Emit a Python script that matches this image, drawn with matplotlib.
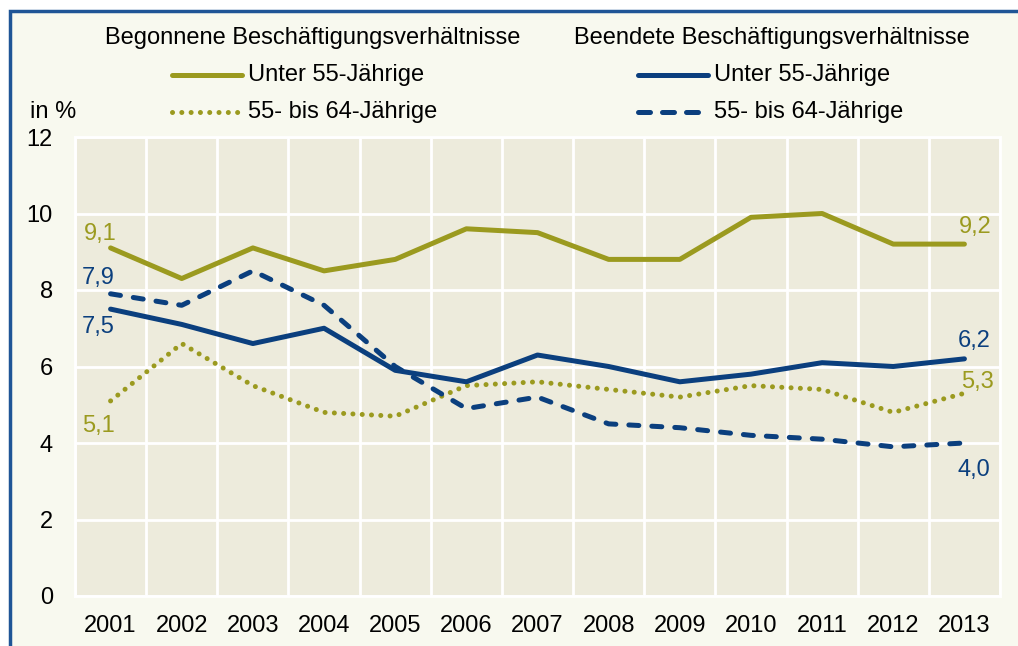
import matplotlib
matplotlib.use("Agg")
import matplotlib.pyplot as plt
from matplotlib.patches import Rectangle
from matplotlib.lines import Line2D
import numpy as np

plt.rcParams['font.family'] = ['Liberation Sans', 'DejaVu Sans']

years = ["2001", "2002", "2003", "2004", "2005", "2006", "2007",
         "2008", "2009", "2010", "2011", "2012", "2013"]
begonnen_unter55 = [9.1, 8.3, 9.1, 8.5, 8.8, 9.6, 9.5, 8.8, 8.8, 9.9, 10.0, 9.2, 9.2]
begonnen_55_64 = [5.1, 6.6, 5.5, 4.8, 4.7, 5.5, 5.6, 5.4, 5.2, 5.5, 5.4, 4.8, 5.3]
beendet_unter55 = [7.5, 7.1, 6.6, 7.0, 5.9, 5.6, 6.3, 6.0, 5.6, 5.8, 6.1, 6.0, 6.2]
beendet_55_64 = [7.9, 7.6, 8.5, 7.6, 6.0, 4.9, 5.2, 4.5, 4.4, 4.2, 4.1, 3.9, 4.0]
yticks = [0, 2, 4, 6, 8, 10, 12]

OLIVE = "#9b9a1f"
BLUE = "#0b3f7e"
PLOT_BG = "#edebdc"
FIG_BG = "#f8f9ef"
FRAME = "#1f5596"
FS = 17

W, H = 1018, 646
fig = plt.figure(figsize=(W / 100, H / 100), dpi=100, facecolor="white")

# frame
fig.add_artist(Rectangle((10 / W, -0.05), 1.2, 1 - 11 / H + 0.05,
                         transform=fig.transFigure, facecolor=FIG_BG,
                         edgecolor=FRAME, linewidth=2.5, zorder=0))

ax = fig.add_axes([75 / W, (H - 596) / H, (1000 - 75) / W, (596 - 137) / H])
ax.set_facecolor(PLOT_BG)
x = np.arange(len(years))

lw = 3.6
DOT = (0, (0.01, 1.85))
DASH_PLOT = (0, (2.0, 2.6))
DASH_LEG = (0, (2.4, 2.4))
l1, = ax.plot(x, begonnen_unter55, color=OLIVE, lw=lw, solid_capstyle='round',
              label="Unter 55-Jährige", zorder=3)
l2, = ax.plot(x, begonnen_55_64, color=OLIVE, lw=lw, linestyle=DOT,
              dash_capstyle='round', label="55- bis 64-Jährige", zorder=3)
l3, = ax.plot(x, beendet_unter55, color=BLUE, lw=lw, solid_capstyle='round',
              label="Unter 55-Jährige", zorder=3)
l4, = ax.plot(x, beendet_55_64, color=BLUE, lw=lw, linestyle=DASH_PLOT,
              dash_capstyle='round', label="55- bis 64-Jährige", zorder=3)

ax.set_xlim(-0.5, len(years) - 0.5)
ax.set_ylim(0, 12)
ax.set_yticks(yticks)
ax.set_yticklabels([str(v) for v in yticks], fontsize=FS)
ax.set_xticks(x)
ax.set_xticklabels(years, fontsize=FS)
ax.set_xticks(np.arange(-0.5, len(years), 1.0), minor=True)
ax.tick_params(axis='both', which='both', length=0)
ax.tick_params(axis='y', pad=16)
ax.tick_params(axis='x', pad=14)
ax.grid(True, axis='y', which='major', color='white', lw=2)
ax.grid(True, axis='x', which='minor', color='white', lw=2)
ax.set_axisbelow(True)
for s in ax.spines.values():
    s.set_color('white')
    s.set_linewidth(2)

def fmt(v):
    return f"{v:.1f}".replace(".", ",")

def label(series, i, dx, dy, color):
    ax.annotate(fmt(series[i]), (i, series[i]), xytext=(dx, dy),
                textcoords='offset pixels', ha='center', va='center',
                color=color, fontsize=FS)

n = len(years) - 1
label(begonnen_unter55, 0, -10, 14, OLIVE)
label(beendet_55_64, 0, -12, 16, BLUE)
label(beendet_unter55, 0, -12, -18, BLUE)
label(begonnen_55_64, 0, -12, -25, OLIVE)
label(begonnen_unter55, n, 11, 17, OLIVE)
label(beendet_unter55, n, 10, 18, BLUE)
label(begonnen_55_64, n, 13, 11, OLIVE)
label(beendet_55_64, n, 9, -27, BLUE)

def fy(py):
    return 1 - py / H

# "in %"
fig.text(30 / W, fy(112), "in %", ha='left', va='center', fontsize=FS)

def legend_block(cx, lx0, lx1, title, specs):
    fig.text(cx / W, fy(38), title, ha='center', va='center', fontsize=FS)
    for i, (color, ls, lab) in enumerate(specs):
        yy = fy(75 + 37 * i)
        fig.add_artist(Line2D([lx0 / W, lx1 / W], [yy, yy], transform=fig.transFigure,
                              color=color, lw=lw, linestyle=ls,
                              dash_capstyle='round', solid_capstyle='round'))
        fig.text((lx1 + 6) / W, yy, lab, ha='left', va='center', fontsize=FS)

legend_block(313, 172, 242, "Begonnene Beschäftigungsverhältnisse",
             [(OLIVE, '-', l1.get_label()), (OLIVE, DOT, l2.get_label())])
legend_block(772, 638, 708, "Beendete Beschäftigungsverhältnisse",
             [(BLUE, '-', l3.get_label()), (BLUE, DASH_LEG, l4.get_label())])

fig.savefig("out.png", dpi=100, facecolor=fig.get_facecolor())
